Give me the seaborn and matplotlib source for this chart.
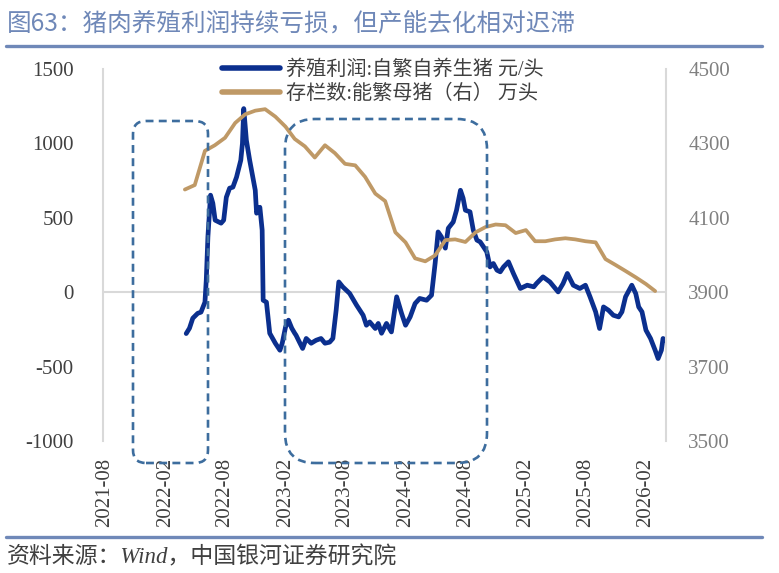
import pandas as pd
import matplotlib
matplotlib.use("Agg")
import matplotlib.pyplot as plt
import matplotlib.dates as mdates
from matplotlib.patches import FancyBboxPatch
from matplotlib.lines import Line2D
import seaborn as sns

sns.set_style("white")
plt.rcParams['font.family'] = ['Liberation Serif', 'Noto Sans CJK SC', 'DejaVu Sans']
plt.rcParams['axes.unicode_minus'] = False

title = "图63：猪肉养殖利润持续亏损，但产能去化相对迟滞"
source = "资料来源：Wind，中国银河证券研究院"
profit_label = "养殖利润:自繁自养生猪 元/头"
sow_label = "存栏数:能繁母猪（右） 万头"

# profit, weekly-ish readings (yuan/head)
profit_dates = [
    "2022-04-05", "2022-04-15", "2022-04-25", "2022-05-10", "2022-05-20", "2022-06-01",
    "2022-06-05", "2022-06-10", "2022-06-18", "2022-06-25", "2022-07-02", "2022-07-20",
    "2022-07-28", "2022-08-05", "2022-08-15", "2022-08-25", "2022-09-05", "2022-09-18",
    "2022-09-23", "2022-09-27", "2022-10-05", "2022-10-15", "2022-11-01", "2022-11-05",
    "2022-11-15", "2022-11-22", "2022-11-25", "2022-12-05", "2022-12-15", "2023-01-01",
    "2023-01-15", "2023-01-22", "2023-02-01", "2023-02-10", "2023-02-20", "2023-03-01",
    "2023-03-05", "2023-03-15", "2023-03-25", "2023-04-05", "2023-04-20", "2023-05-05",
    "2023-05-20", "2023-06-01", "2023-06-15", "2023-06-25", "2023-07-05", "2023-07-13",
    "2023-07-25", "2023-08-15", "2023-09-05", "2023-09-25", "2023-10-05", "2023-10-15",
    "2023-11-01", "2023-11-10", "2023-11-20", "2023-12-05", "2023-12-20", "2024-01-05",
    "2024-01-20", "2024-02-01", "2024-02-15", "2024-03-01", "2024-03-15", "2024-04-05",
    "2024-04-20", "2024-05-01", "2024-05-10", "2024-05-20", "2024-06-01", "2024-06-10",
    "2024-06-25", "2024-07-05", "2024-07-17", "2024-07-25", "2024-08-01", "2024-08-15",
    "2024-08-25", "2024-09-05", "2024-09-15", "2024-09-25", "2024-10-05", "2024-10-15",
    "2024-10-25", "2024-11-05", "2024-11-15", "2024-11-25", "2024-12-10", "2024-12-25",
    "2025-01-15", "2025-02-05", "2025-02-25", "2025-03-05", "2025-03-25", "2025-04-15",
    "2025-05-10", "2025-05-25", "2025-06-07", "2025-06-25", "2025-07-15", "2025-08-01",
    "2025-08-15", "2025-09-01", "2025-09-13", "2025-09-25", "2025-10-10", "2025-10-25",
    "2025-11-10", "2025-11-20", "2025-12-01", "2025-12-20", "2026-01-01", "2026-01-10",
    "2026-01-20", "2026-02-01", "2026-02-15", "2026-03-01", "2026-03-10", "2026-03-20",
    "2026-03-25", "2026-04-02",
]
profit_values = [
    -278, -242, -175, -142, -134, -67,
    81, 372, 652, 598, 484, 464,
    484, 638, 699, 706, 773, 887,
    1000, 1234, 1021, 887, 685, 531,
    571, 417, -54, -67, -276, -343,
    -390, -343, -235, -188, -242, -276,
    -289, -334, -378, -311, -343, -323,
    -311, -343, -336, -311, -121, 69,
    36, -8, -87, -155, -222, -200,
    -244, -210, -276, -210, -267, -31,
    -143, -222, -166, -76, -42, -54,
    -20, 195, 405, 372, 296, 430,
    472, 551, 685, 632, 551, 540,
    417, 350, 338, 305, 271, 170,
    193, 148, 137, 170, 204, 126,
    25, 47, 36, 58, 103, 69,
    2, 58, 126, 47, 25, 47,
    -31, -132, -244, -99, -121, -155,
    -166, -132, -31, 47, -9, -99,
    -132, -255, -311, -390, -446, -390,
    -311, -323,
]

# breeding sows, monthly from 2022-04 (10k head)
sow_start = "2022-04-01"
sow_values = [
    4176, 4188, 4280, 4295, 4315, 4355, 4378, 4388, 4392, 4372, 4345, 4312,
    4292, 4262, 4295, 4274, 4245, 4241, 4210, 4165, 4145, 4061, 4034, 3991,
    3983, 3999, 4040, 4042, 4035, 4061, 4075, 4082, 4080, 4059, 4067, 4037,
    4037, 4042, 4045, 4042, 4037, 4034, 3989, 3973, 3957, 3940, 3922, 3903,
]

tick_labels = ["2021-08", "2022-02", "2022-08", "2023-02", "2023-08",
               "2024-02", "2024-08", "2025-02", "2025-08", "2026-02"]
left_ticks = [-1000, -500, 0, 500, 1000, 1500]
right_ticks = [3500, 3700, 3900, 4100, 4300, 4500]

blue = "#0B2F8E"
tan = "#BF9966"
grid_c = "#D9D9D9"
head_c = "#6F88B8"
box_c = "#3D6D9E"

profit = pd.DataFrame({"date": pd.to_datetime(profit_dates), "value": profit_values})
sow = pd.DataFrame({"date": pd.date_range(sow_start, periods=len(sow_values), freq="MS"),
                    "value": sow_values})

fig = plt.figure(figsize=(7.79, 5.73), dpi=100)
ax = fig.add_axes([103 / 779, 1 - 441 / 573, 563 / 779, 372 / 573])
ax2 = ax.twinx()

ax.axhline(0, color=grid_c, lw=1.5, zorder=0.5)
sns.lineplot(data=profit, x="date", y="value", ax=ax, color=blue, lw=3.4, legend=False)
sns.lineplot(data=sow, x="date", y="value", ax=ax2, color=tan, lw=2.7, legend=False)

ax.set_ylim(-1000, 1500)
ax2.set_ylim(3500, 4500)
ax.set_yticks(left_ticks)
ax2.set_yticks(right_ticks)
ax.set_xlim(pd.Timestamp("2021-07-26"), pd.Timestamp("2026-04-03"))
ax.set_xticks([pd.Timestamp(t + "-01") for t in tick_labels])
ax.set_xticklabels(tick_labels, rotation=90)
ax.set_xlabel("")
ax.set_ylabel("")
ax2.set_ylabel("")

ax.tick_params(axis="y", length=0, pad=21, labelsize=15, labelcolor="#404040")
ax2.tick_params(axis="y", length=0, pad=16, labelsize=15, labelcolor="#808080")
ax.tick_params(axis="x", length=0, pad=12, labelsize=15, labelcolor="#404040")

for a in (ax, ax2):
    for s in a.spines.values():
        s.set_visible(False)
ax.spines["left"].set_visible(True)
ax.spines["left"].set_color(grid_c)
ax.spines["left"].set_linewidth(1.5)
ax2.spines["right"].set_visible(True)
ax2.spines["right"].set_color(grid_c)
ax2.spines["right"].set_linewidth(1.5)

handles = [Line2D([], [], color=blue, lw=4), Line2D([], [], color=tan, lw=4)]
fig.legend(handles, [profit_label, sow_label], loc="center left",
           bbox_to_anchor=(222 / 779, 1 - 82 / 573), frameon=False,
           handlelength=2.9, handletextpad=0.3, labelspacing=0.25,
           borderpad=0, borderaxespad=0, labelcolor="#404040",
           prop={"family": ["Liberation Serif", "Noto Sans CJK SC"], "size": 14.5})

# dashed highlight boxes (inches, figure space)
for x0, y0, w, h, r in [(1.33, 1.10, 0.75, 3.42, 0.13), (2.85, 1.10, 2.02, 3.44, 0.30)]:
    box = FancyBboxPatch((x0, y0), w, h, boxstyle=f"round,pad=0,rounding_size={r}",
                         transform=fig.dpi_scale_trans, fill=False, ec=box_c,
                         lw=1.9, ls=(0, (3, 2)), zorder=10)
    fig.add_artist(box)

fig.text(7 / 779, 1 - 23 / 573, title, fontsize=17.7, color=head_c, va="center",
         family=["Noto Sans CJK SC", "DejaVu Sans"])
fig.add_artist(Line2D([6 / 779, 762 / 779], [1 - 46 / 573] * 2, color=head_c, lw=2.4))
fig.add_artist(Line2D([6 / 779, 762 / 779], [1 - 537 / 573] * 2, color=head_c, lw=2.4))
fig.text(7 / 779, 1 - 557 / 573, source, fontsize=16.5, color="#404040", va="center",
         style="italic", family=["Liberation Serif", "Noto Sans CJK SC"])

fig.savefig("out.png", dpi=100)
